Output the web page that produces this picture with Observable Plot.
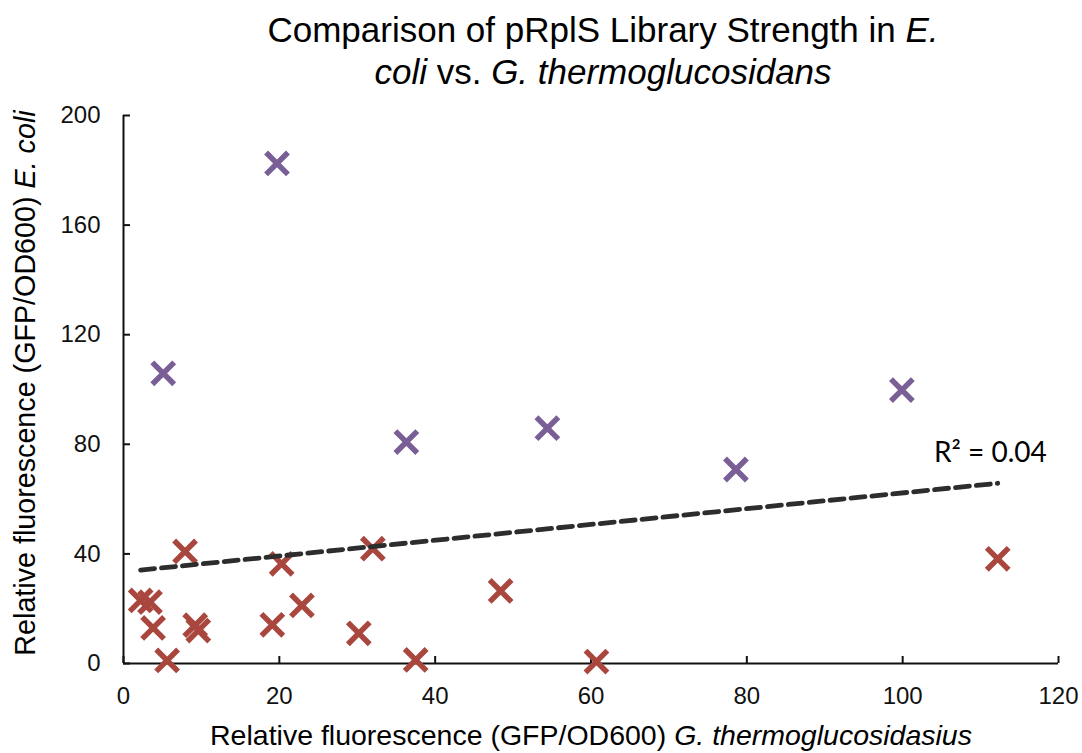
<!DOCTYPE html>
<html><head><meta charset="utf-8">
<script src="https://cdn.jsdelivr.net/npm/d3@7"></script>
<script src="https://cdn.jsdelivr.net/npm/@observablehq/plot@0.6"></script>
<style>
body{margin:0;background:#fff;width:1082px;height:753px;overflow:hidden;font-family:"Liberation Sans",Arial,sans-serif;}
#title{position:relative;height:100px;}
#title div{position:absolute;left:603px;transform:translateX(-50%);top:9px;font-size:35px;line-height:42px;text-align:center;white-space:nowrap;color:#000;}
#chart svg{display:block;}
</style></head><body>
<div id="title"><div>Comparison of pRplS Library Strength in <i>E.</i><br><i>coli</i> vs. <i>G. thermoglucosidans</i></div></div>
<div id="chart"></div>
<script>
// Purple series (G. thermoglucosidasius x, E. coli y)
const purpleX = [19.7, 5.1, 36.3, 54.4, 78.6, 99.9];
const purpleY = [182.5, 105.9, 80.8, 85.9, 70.8, 99.8];
// Red series
const redX = [2.2, 3.4, 3.8, 5.6, 7.9, 9.2, 9.6, 19.1, 20.3, 22.9, 30.2, 32.0, 37.5, 48.4, 60.7, 112.2];
const redY = [23.0, 22.4, 13.0, 1.1, 40.9, 14.0, 12.0, 14.1, 36.4, 21.2, 11.0, 41.9, 1.3, 26.5, 0.7, 38.2];
// Axis ticks
const xTicks = [0, 20, 40, 60, 80, 100, 120];
const yTicks = [0, 40, 80, 120, 160, 200];
// Annotation
const r2Label = ["R\u00B2 = 0.04"];

const purplePts = purpleX.map((x, i) => ({x, y: purpleY[i]}));
const redPts = redX.map((x, i) => ({x, y: redY[i]}));
const allPts = [...purplePts, ...redPts];

const chart = Plot.plot({
  width: 1082, height: 653,
  marginTop: 15, marginBottom: 90, marginLeft: 123, marginRight: 24,
  style: {fontFamily: "'Liberation Sans', Arial, sans-serif", color: "#111", background: "#fff", overflow: "visible"},
  x: {domain: [0, 120], label: null},
  y: {domain: [0, 200], label: null},
  marks: [
    Plot.axisX({ticks: xTicks, tickSize: -7, tickPadding: 30, label: null, fontSize: 24, stroke: "#111", strokeWidth: 2}),
    Plot.axisY({ticks: yTicks, tickSize: -7, tickPadding: 30, label: null, fontSize: 24, stroke: "#111", strokeWidth: 2}),
    Plot.ruleY([0], {stroke: "#111", strokeWidth: 2}),
    Plot.ruleX([0], {stroke: "#111", strokeWidth: 2}),
    Plot.dot(purplePts, {x: "x", y: "y", symbol: "times", r: 10, stroke: "#7A5F97", strokeWidth: 5.5, fill: "none"}),
    Plot.dot(redPts, {x: "x", y: "y", symbol: "times", r: 10, stroke: "#A9473F", strokeWidth: 5.5, fill: "none"}),
    Plot.linearRegressionY(allPts, {x: "x", y: "y", stroke: "#2d2d2d", strokeWidth: 4.8, strokeDasharray: "14,7", ci: 0}),
    Plot.text(r2Label, {x: () => 118.5, y: () => 73.5, text: d => d, textAnchor: "end", lineAnchor: "bottom", fontFamily: "Lato", fontSize: 28, fill: "#000"})
  ]
});
document.getElementById("chart").appendChild(chart);

// Axis titles with italic species names
const svg = d3.select(chart);
const xl = svg.append("text")
  .attr("x", 591).attr("y", 645)
  .attr("text-anchor", "middle")
  .attr("font-size", 28.5).attr("fill", "#000")
  .attr("font-family", "'Liberation Sans', Arial, sans-serif");
xl.append("tspan").text("Relative fluorescence (GFP/OD600) ");
xl.append("tspan").attr("font-style", "italic").text("G. thermoglucosidasius");

const yl = svg.append("text")
  .attr("transform", "translate(35,283) rotate(-90)")
  .attr("text-anchor", "middle")
  .attr("font-size", 28.7).attr("fill", "#000")
  .attr("font-family", "'Liberation Sans', Arial, sans-serif");
yl.append("tspan").text("Relative fluorescence (GFP/OD600) ");
yl.append("tspan").attr("font-style", "italic").text("E. coli");
</script>
</body></html>
